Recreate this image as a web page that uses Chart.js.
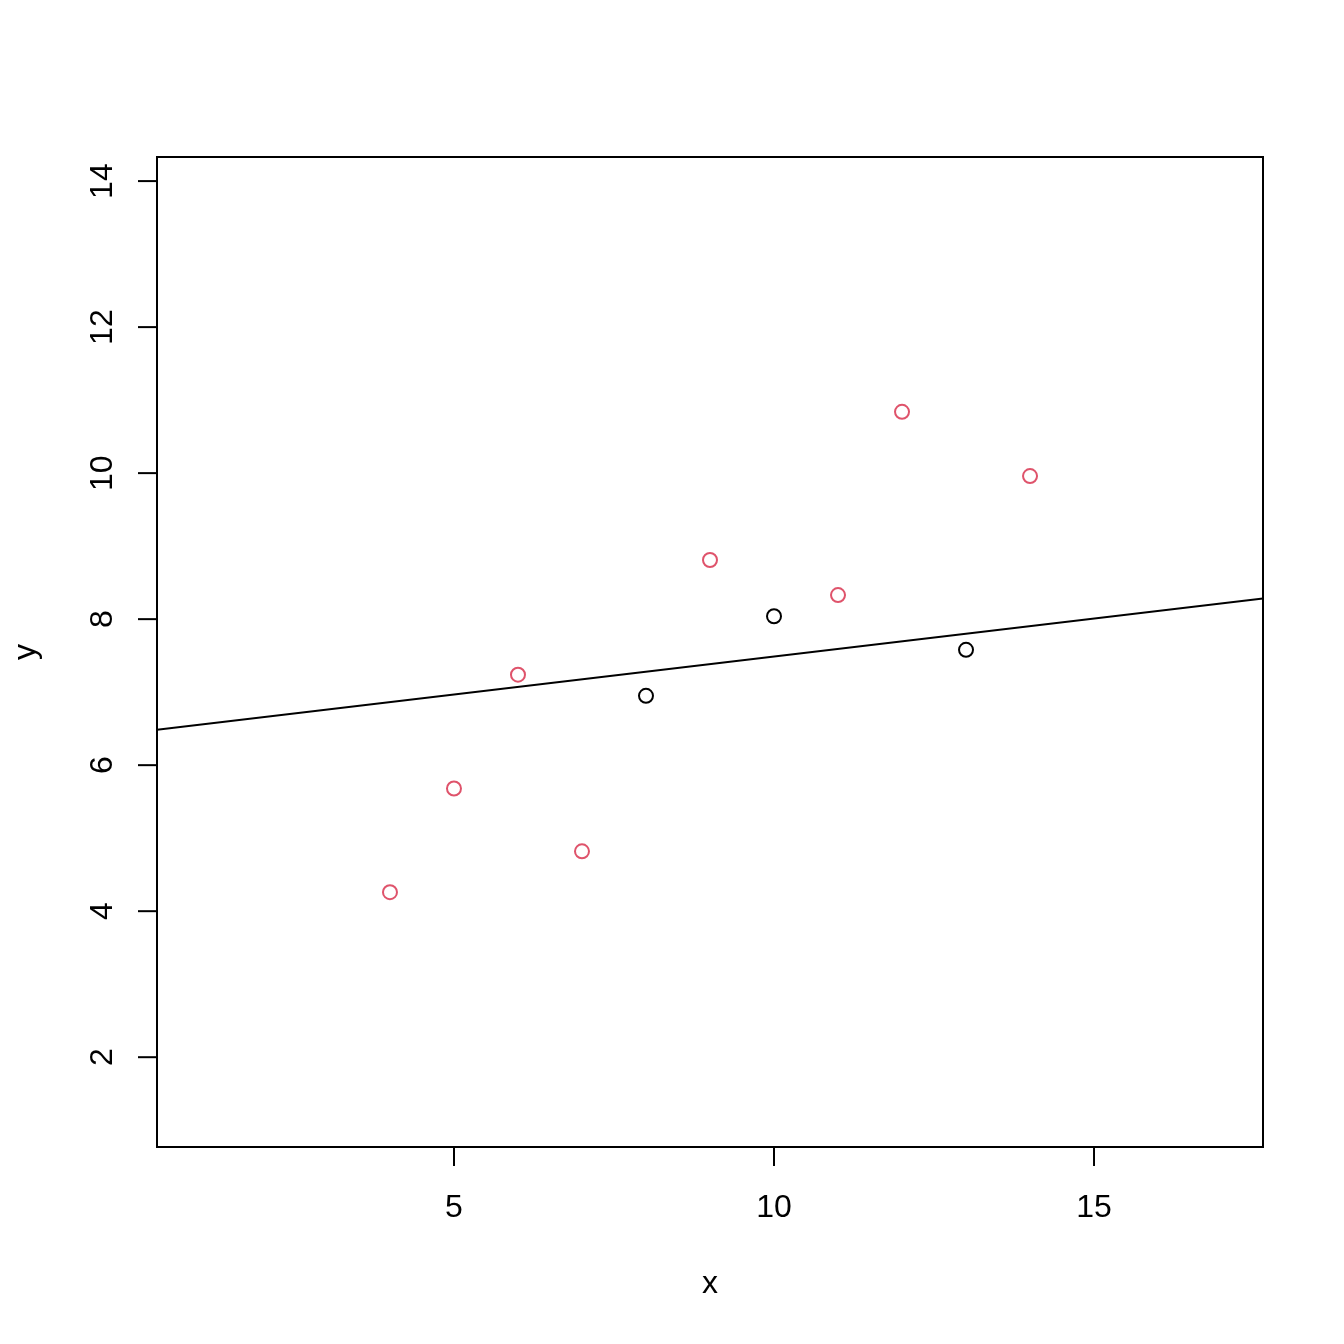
<!DOCTYPE html>
<html>
<head>
<meta charset="utf-8">
<script src="https://cdn.jsdelivr.net/npm/chart.js@4/dist/chart.umd.min.js"></script>
<style>
html,body{margin:0;padding:0;background:#fff;}
#wrap{width:1344px;height:1344px;}
</style>
</head>
<body>
<div id="wrap"><canvas id="c" width="1344" height="1344"></canvas></div>
<script>
// Data (Anscombe set 1)
const blackX = [10, 8, 13];
const blackY = [8.04, 6.95, 7.58];
const redX = [9, 11, 14, 6, 4, 12, 7, 5];
const redY = [8.81, 8.33, 9.96, 7.24, 4.26, 10.84, 4.82, 5.68];
// fitted line through black points
const lineIntercept = 6.448;
const lineSlope = 0.104;
const xTicks = [5, 10, 15];
const yTicks = [2, 4, 6, 8, 10, 12, 14];
const xRange = [0.36, 17.64];
const yRange = [0.77, 14.33];

const toPts = (xs, ys) => xs.map((x, i) => ({x: x, y: ys[i]}));
const linePts = xRange.map(x => ({x: x, y: lineIntercept + lineSlope * x}));

const FONT = '32px "Liberation Sans", Arial, sans-serif';

const rAxes = {
  id: 'rAxes',
  afterDraw(chart) {
    const ctx = chart.ctx;
    const a = chart.chartArea;
    const xs = chart.scales.x, ys = chart.scales.y;
    ctx.save();
    ctx.strokeStyle = '#000';
    ctx.lineWidth = 2;
    ctx.strokeRect(a.left, a.top, a.right - a.left, a.bottom - a.top);
    ctx.fillStyle = '#000';
    ctx.font = FONT;
    // x ticks
    ctx.textAlign = 'center';
    ctx.textBaseline = 'alphabetic';
    xTicks.forEach(t => {
      const px = xs.getPixelForValue(t);
      ctx.beginPath();
      ctx.moveTo(px, a.bottom);
      ctx.lineTo(px, a.bottom + 19);
      ctx.stroke();
      ctx.fillText(String(t), px, a.bottom + 70);
    });
    // y ticks
    yTicks.forEach(t => {
      const py = ys.getPixelForValue(t);
      ctx.beginPath();
      ctx.moveTo(a.left, py);
      ctx.lineTo(a.left - 19, py);
      ctx.stroke();
      ctx.save();
      ctx.translate(a.left - 45, py);
      ctx.rotate(-Math.PI / 2);
      ctx.fillText(String(t), 0, 0);
      ctx.restore();
    });
    // titles
    ctx.fillText('x', (a.left + a.right) / 2, 1293);
    ctx.save();
    ctx.translate(35, (a.top + a.bottom) / 2);
    ctx.rotate(-Math.PI / 2);
    ctx.fillText('y', 0, 0);
    ctx.restore();
    ctx.restore();
  }
};

new Chart(document.getElementById('c'), {
  type: 'scatter',
  data: {
    datasets: [
      {
        label: 'black',
        data: toPts(blackX, blackY),
        pointRadius: 7,
        pointBorderWidth: 2,
        pointBorderColor: '#000000',
        pointBackgroundColor: 'rgba(0,0,0,0)',
        showLine: false
      },
      {
        label: 'red',
        data: toPts(redX, redY),
        pointRadius: 7,
        pointBorderWidth: 2,
        pointBorderColor: '#DF536B',
        pointBackgroundColor: 'rgba(0,0,0,0)',
        showLine: false
      },
      {
        label: 'fit',
        data: linePts,
        showLine: true,
        pointRadius: 0,
        borderColor: '#000000',
        borderWidth: 2,
        fill: false
      }
    ]
  },
  options: {
    responsive: false,
    animation: false,
    devicePixelRatio: 1,
    layout: {padding: {left: 157, top: 157, right: 81, bottom: 197}},
    plugins: {legend: {display: false}, tooltip: {enabled: false}},
    scales: {
      x: {type: 'linear', min: xRange[0], max: xRange[1], display: false},
      y: {type: 'linear', min: yRange[0], max: yRange[1], display: false}
    }
  },
  plugins: [rAxes]
});
</script>
</body>
</html>
